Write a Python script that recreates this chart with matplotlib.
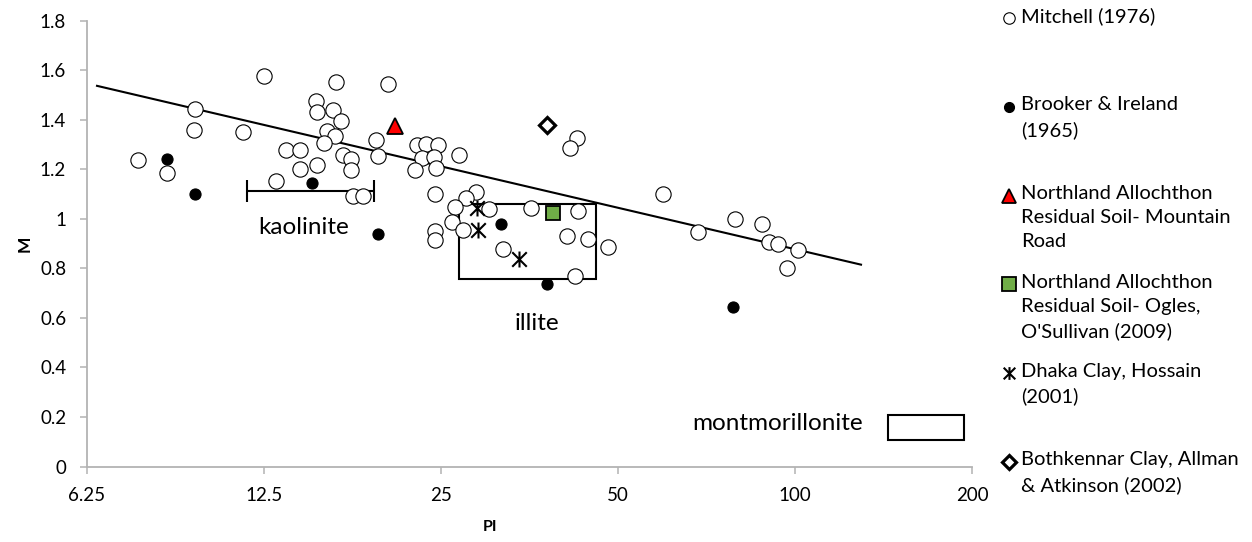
import numpy as np
import matplotlib
matplotlib.use("Agg")
import matplotlib.pyplot as plt
from matplotlib.path import Path
from matplotlib.patches import Rectangle
from matplotlib.lines import Line2D

plt.rcParams['font.family'] = ['Lato', 'DejaVu Sans']

# Mitchell (1976)
mitchell_pi = [12.5, 16.6, 20.3, 9.54, 9.5, 11.5, 15.3, 15.4, 16.4, 16.9, 16.0, 16.5, 15.8,
               19.4, 19.5, 17.0, 17.6, 17.6, 13.6, 14.4, 14.4, 15.4, 13.1, 17.7, 18.4, 7.63,
               8.55, 42.6, 41.4, 22.8, 23.6, 24.7, 23.2, 24.3, 24.5, 22.6, 26.8, 24.4, 28.7,
               27.6, 26.4, 30.2, 35.6, 42.7, 26.1, 27.3, 24.4, 24.4, 40.9, 44.4, 48.1, 31.9,
               59.6, 68.5, 79.1, 88.0, 90.3, 93.5, 101.1, 96.9, 42.2]
mitchell_m = [1.577, 1.552, 1.544, 1.443, 1.359, 1.35, 1.476, 1.43, 1.44, 1.395, 1.355, 1.335, 1.306,
              1.32, 1.254, 1.258, 1.24, 1.197, 1.278, 1.278, 1.20, 1.218, 1.153, 1.093, 1.093, 1.238,
              1.185, 1.327, 1.287, 1.298, 1.303, 1.298, 1.246, 1.25, 1.206, 1.198, 1.258, 1.10, 1.109,
              1.085, 1.048, 1.04, 1.044, 1.032, 0.988, 0.956, 0.952, 0.915, 0.931, 0.919, 0.887, 0.877,
              1.10, 0.946, 1.0, 0.98, 0.907, 0.899, 0.875, 0.802, 0.77]

# Brooker & Ireland (1965)
brooker_pi = [8.55, 9.54, 15.1, 19.5, 31.6, 37.9, 78.4]
brooker_m = [1.242, 1.10, 1.145, 0.94, 0.98, 0.738, 0.645]

# Northland Allochthon residual soil
mountain_pi = [20.9]
mountain_m = [1.375]
ogles_pi = [38.8]
ogles_m = [1.024]

# Dhaka clay, Bothkennar clay
dhaka_pi = [28.8, 28.9, 33.9]
dhaka_m = [1.044, 0.956, 0.838]
bothkennar_pi = [37.9]
bothkennar_m = [1.378]

# trend line end points
trend_pi = [6.5, 129.5]
trend_m = [1.537, 0.815]

# clay mineral zones
kaolinite_pi = [11.7, 19.2]
kaolinite_m = 1.113
illite_pi = [26.8, 45.9]
illite_m = [0.758, 1.059]
montmorillonite_pi = [143.8, 193.9]
montmorillonite_m = [0.105, 0.208]

legend_labels = ['Mitchell (1976)',
                 'Brooker & Ireland\n(1965)',
                 'Northland Allochthon\nResidual Soil- Mountain\nRoad',
                 'Northland Allochthon\nResidual Soil- Ogles,\nO\'Sullivan (2009)',
                 'Dhaka Clay, Hossain\n(2001)',
                 'Bothkennar Clay, Allman\n& Atkinson (2002)']

# asterisk marker: X with a vertical stroke
star_path = Path([(-0.5, -0.5), (0.5, 0.5), (-0.5, 0.5), (0.5, -0.5), (0, -0.55), (0, 0.55)],
                 [Path.MOVETO, Path.LINETO, Path.MOVETO, Path.LINETO, Path.MOVETO, Path.LINETO])

W, H = 1252, 542
fig = plt.figure(figsize=(W / 100, H / 100), dpi=100)
ax = fig.add_axes([87 / W, (H - 466.5) / H, (972 - 87) / W, (466.5 - 20.7) / H])

grey = '#B3B3B3'
styles = [
    dict(marker='o', ms=11, mfc='white', mec='black', mew=0.8),
    dict(marker='o', ms=8, mfc='black', mec='black', mew=0.8),
    dict(marker='^', ms=12, mfc='#FF0000', mec='black', mew=1.3),
    dict(marker='s', ms=10.5, mfc='#70AD47', mec='black', mew=1.3),
    dict(marker=star_path, ms=11.5, mfc='none', mec='black', mew=1.5),
    dict(marker='D', ms=8.5, mfc='white', mec='black', mew=2.3),
]
series = [(mitchell_pi, mitchell_m), (brooker_pi, brooker_m), (mountain_pi, mountain_m),
          (ogles_pi, ogles_m), (dhaka_pi, dhaka_m), (bothkennar_pi, bothkennar_m)]

ax.plot(trend_pi, trend_m, color='black', lw=1.5, zorder=2)
for (px, py), st in zip(series, styles):
    ax.plot(px, py, ls='none', zorder=3, **st)

# kaolinite range bar
kc = np.sqrt(kaolinite_pi[0] * kaolinite_pi[1])
ax.errorbar(kc, kaolinite_m, xerr=[[kc - kaolinite_pi[0]], [kaolinite_pi[1] - kc]],
            fmt='none', ecolor='black', elinewidth=1.5, capsize=8, capthick=1.5, zorder=2)
ax.text(14.6, 0.964, 'kaolinite', ha='center', va='center', fontsize=17.5)

ax.add_patch(Rectangle((illite_pi[0], illite_m[0]), illite_pi[1] - illite_pi[0],
                       illite_m[1] - illite_m[0], fill=False, ec='black', lw=1.5, zorder=2))
ax.text(36.4, 0.577, 'illite', ha='center', va='center', fontsize=17.5)

ax.add_patch(Rectangle((montmorillonite_pi[0], montmorillonite_m[0]),
                       montmorillonite_pi[1] - montmorillonite_pi[0],
                       montmorillonite_m[1] - montmorillonite_m[0],
                       fill=False, ec='black', lw=1.5, zorder=2))
ax.text(93.5, 0.173, 'montmorillonite', ha='center', va='center', fontsize=17.5)

ax.set_xscale('log', base=2)
ax.set_xlim(6.25, 200)
ax.set_ylim(0, 1.8)
xt = [6.25, 12.5, 25, 50, 100, 200]
ax.set_xticks(xt)
ax.set_xticklabels(['6.25', '12.5', '25', '50', '100', '200'])
ax.xaxis.set_minor_locator(matplotlib.ticker.NullLocator())
yt = np.arange(0, 1.81, 0.2)
ax.set_yticks(yt)
ax.set_yticklabels(['0', '0.2', '0.4', '0.6', '0.8', '1', '1.2', '1.4', '1.6', '1.8'])

for s in ['top', 'right']:
    ax.spines[s].set_visible(False)
for s in ['left', 'bottom']:
    ax.spines[s].set_color(grey)
    ax.spines[s].set_linewidth(1.3)
ax.tick_params(direction='out', length=5, width=1.1, color=grey, labelsize=13.5, pad=10)

ax.set_ylabel('M', fontsize=12.5, fontweight='bold')
ax.yaxis.set_label_coords(-0.062, 0.5)
ax.set_xlabel('PI', fontsize=11.5, fontweight='bold', va='center')
ax.xaxis.set_label_coords(0.455, -0.136)

# legend drawn on an overlay in pixel units
lax = fig.add_axes([0, 0, 1, 1], zorder=5)
lax.set_xlim(0, W)
lax.set_ylim(H, 0)
lax.axis('off')
leg_sizes = [0.75, 0.9, 0.85, 0.9, 0.8, 0.85]
leg_y0, leg_step = 18, 88.8
for i, (lab, st) in enumerate(zip(legend_labels, styles)):
    y = leg_y0 + i * leg_step
    s = dict(st)
    s['ms'] = st['ms'] * leg_sizes[i]
    lax.add_line(Line2D([1009], [y], ls='none', **s))
    lax.text(1021, y - 10.5, lab, ha='left', va='top', fontsize=14.5, linespacing=1.5)

fig.savefig('out.png', dpi=100)
